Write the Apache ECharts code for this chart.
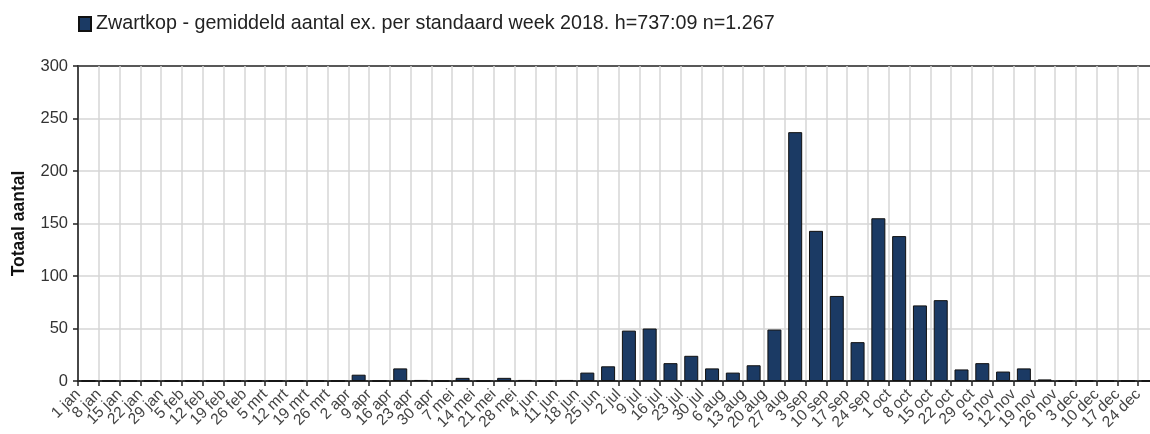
<!DOCTYPE html>
<html>
<head>
<meta charset="utf-8">
<script src="https://cdn.jsdelivr.net/npm/echarts@6/dist/echarts.min.js"></script>
<style>
html,body{margin:0;padding:0;background:#fff;}
#chart{width:1150px;height:434px;}
</style>
</head>
<body>
<div id="chart"></div>
<script>
const weeks = ['1 jan','8 jan','15 jan','22 jan','29 jan','5 feb','12 feb','19 feb','26 feb','5 mrt','12 mrt','19 mrt','26 mrt','2 apr','9 apr','16 apr','23 apr','30 apr','7 mei','14 mei','21 mei','28 mei','4 jun','11 jun','18 jun','25 jun','2 jul','9 jul','16 jul','23 jul','30 jul','6 aug','13 aug','20 aug','27 aug','3 sep','10 sep','17 sep','24 sep','1 oct','8 oct','15 oct','22 oct','29 oct','5 nov','12 nov','19 nov','26 nov','3 dec','10 dec','17 dec','24 dec'];
const counts = [0,0,0,0,0,0,0,0,0,0,0,0,0,6,0,12,1,0,3,0,3,1,0,1,8,14,48,50,17,24,12,8,15,49,237,143,81,37,155,138,72,77,11,17,9,12,1.5,0,0,0,0,0];
const yTicks = {min:0, max:300, interval:50};
const seriesName = 'Zwartkop - gemiddeld aantal ex. per standaard week 2018. h=737:09 n=1.267';
const yName = 'Totaal aantal';

const tickLabels = weeks.concat(['']);
const font = '"Liberation Sans", Arial, sans-serif';
const chart = echarts.init(document.getElementById('chart'), null, {renderer:'canvas'});
chart.setOption({
  animation:false,
  textStyle:{fontFamily:font},
  legend:{
    left:78, top:14, padding:0, icon:'rect', itemWidth:12, itemHeight:14, itemGap:6,
    textStyle:{fontSize:19.7, color:'#222', fontFamily:font},
    data:[seriesName]
  },
  grid:{left:78, top:66, height:315, width:1081, show:true, borderColor:'#222', borderWidth:1.5, backgroundColor:'transparent', outerBoundsMode:'none', containLabel:false},
  xAxis:[{
    type:'category', data:weeks, boundaryGap:true,
    axisLine:{show:true, lineStyle:{color:'#222', width:1.5}},
    axisTick:{show:false},
    axisLabel:{show:false},
    splitLine:{show:true, interval:0, lineStyle:{color:'#d6d6d6', width:1.5}}
  },{
    type:'category', data:tickLabels, boundaryGap:false, position:'bottom',
    axisLine:{show:false},
    axisTick:{show:true, interval:0, length:5, lineStyle:{color:'#222', width:1.5}},
    axisLabel:{show:true, interval:0, rotate:45, margin:11, fontSize:15.5, color:'#444', fontFamily:font},
    splitLine:{show:false}
  }],
  yAxis:{
    type:'value', min:yTicks.min, max:yTicks.max, interval:yTicks.interval,
    name:yName, nameLocation:'middle', nameRotate:90, nameGap:50,
    nameTextStyle:{fontSize:17.5, fontWeight:'bold', color:'#111', fontFamily:font},
    axisLine:{show:true, lineStyle:{color:'#222', width:1.5}},
    axisTick:{show:true, length:5, lineStyle:{color:'#222', width:1.5}},
    axisLabel:{fontSize:16.5, color:'#333', margin:10, fontFamily:font},
    splitLine:{show:true, showMaxLine:false, showMinLine:false, lineStyle:{color:'#d6d6d6', width:1.5}}
  },
  series:[{
    name:seriesName, type:'bar', xAxisIndex:0, data:counts, barWidth:14,
    itemStyle:{color:'#1b3a64', borderColor:'#111', borderWidth:1}
  }]
});
</script>
</body>
</html>
